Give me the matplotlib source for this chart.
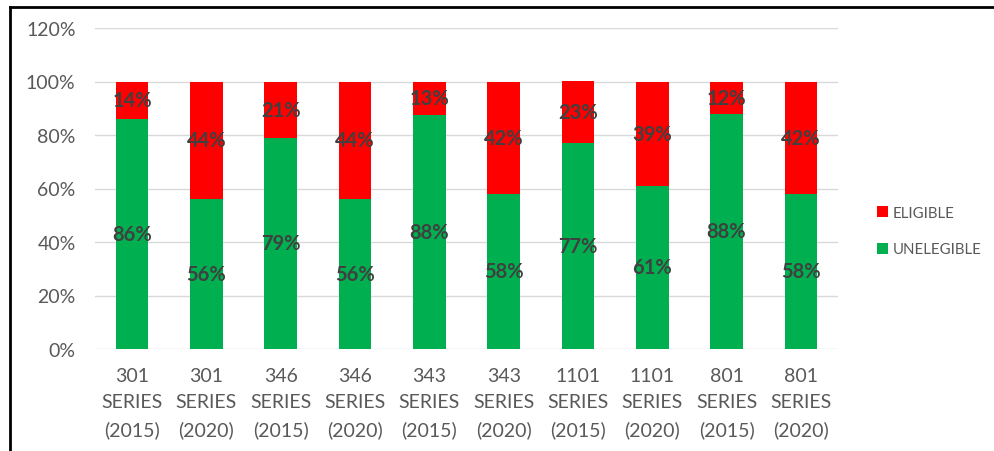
import math
import matplotlib
matplotlib.use("Agg")
import matplotlib.pyplot as plt
from matplotlib.lines import Line2D
from matplotlib.patches import Patch

categories = ["301\nSERIES\n(2015)", "301\nSERIES\n(2020)", "346\nSERIES\n(2015)", "346\nSERIES\n(2020)",
              "343\nSERIES\n(2015)", "343\nSERIES\n(2020)", "1101\nSERIES\n(2015)", "1101\nSERIES\n(2020)",
              "801\nSERIES\n(2015)", "801\nSERIES\n(2020)"]
unelegible = [86, 56, 79, 56, 87.5, 58, 77, 61, 88, 58]
eligible = [14, 44, 21, 44, 12.5, 42, 23, 39, 12, 42]
yticks = [0, 20, 40, 60, 80, 100, 120]

RED = "#FF0000"
GREEN = "#00B050"
LABEL = "#404040"
TICK = "#595959"

plt.rcParams['font.family'] = ['Lato', 'DejaVu Sans']

fig = plt.figure(figsize=(9.94, 4.52), dpi=100)
ax = fig.add_axes([95/994, 1 - 350/452, (838 - 95)/994, (350 - 29)/452])

x = list(range(len(categories)))
w = 0.44
ax.bar(x, unelegible, width=w, color=GREEN, zorder=3, label="UNELEGIBLE")
ax.bar(x, eligible, width=w, bottom=unelegible, color=RED, zorder=3, label="ELIGIBLE")

def fmt(v):
    return f"{math.floor(v + 0.5)}%"

for i in x:
    u = unelegible[i]
    e = eligible[i]
    ax.text(i, u / 2, fmt(u), ha="center", va="center", fontsize=14.5, fontweight="bold", color=LABEL, zorder=4)
    ax.text(i, u + e / 2, fmt(e), ha="center", va="center", fontsize=14.5, fontweight="bold", color=LABEL, zorder=4)

ax.set_xlim(-0.5, len(categories) - 0.5)
ax.set_ylim(0, 120)
ax.set_yticks(yticks)
ax.set_yticklabels([f"{t}%" for t in yticks])
ax.set_xticks(x)
ax.set_xticklabels(categories, linespacing=1.65)
ax.tick_params(axis="y", length=0, pad=14, labelsize=14, labelcolor=TICK)
ax.tick_params(axis="x", length=0, pad=13, labelsize=14, labelcolor=TICK)
ax.grid(axis="y", color="#D9D9D9", linewidth=1, zorder=0)
for s in ax.spines.values():
    s.set_visible(False)

handles = [Patch(facecolor=RED, label="ELIGIBLE"), Patch(facecolor=GREEN, label="UNELEGIBLE")]
fig.legend(handles=handles, loc="center left", bbox_to_anchor=(863/994, 1 - 232/452), frameon=False,
           fontsize=10.8, handlelength=0.75, handleheight=0.75, handletextpad=0.3, labelspacing=1.5,
           labelcolor=TICK)

# outer border (top and left)
fig.add_artist(Line2D([10/994, 1], [1 - 7.5/452, 1 - 7.5/452], color="black", linewidth=2, transform=fig.transFigure))
fig.add_artist(Line2D([10/994, 10/994], [0, 1 - 7.5/452], color="black", linewidth=2, transform=fig.transFigure))

fig.savefig("out.png", dpi=100)
